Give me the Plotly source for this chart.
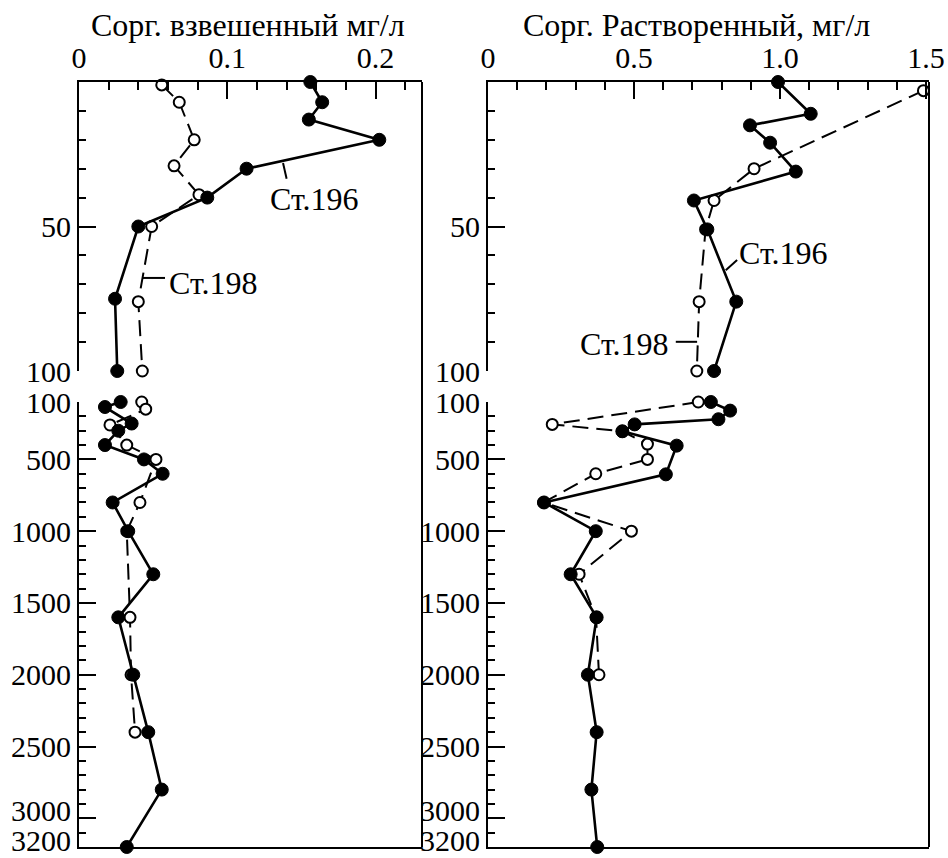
import plotly.graph_objects as go

# ---------------- data ----------------
# Left panel: suspended Corg, mg/l ; upper section 0-100 m
depth_top_196_L = [0, 7, 13, 20, 30, 40, 50, 75, 100]
susp_top_196 = [0.156, 0.164, 0.155, 0.2025, 0.113, 0.0865, 0.040, 0.0243, 0.0258]
depth_top_198_L = [1, 7, 20, 29, 39, 50, 76, 100]
susp_top_198 = [0.0558, 0.0676, 0.0777, 0.0641, 0.0809, 0.0490, 0.0400, 0.0427]
# lower section 100-3200 m
depth_bot_196_L = [100, 135, 250, 300, 400, 500, 600, 800, 1000, 1300, 1600, 2000, 2400, 2800, 3200]
susp_bot_196 = [0.0281, 0.0175, 0.0355, 0.0265, 0.0175, 0.0438, 0.0564, 0.0227, 0.0332,
                0.0501, 0.0265, 0.0366, 0.0467, 0.0558, 0.0322]
depth_bot_198_L = [100, 150, 260, 400, 500, 800, 1000, 1600, 2000, 2400]
susp_bot_198 = [0.0423, 0.0450, 0.0209, 0.0322, 0.0519, 0.0411, 0.0322, 0.0344, 0.0351, 0.0378]

# Right panel: dissolved Corg, mg/l ; upper section 0-100 m
depth_top_196_R = [0, 11, 15, 21, 31, 41, 51, 76, 100]
diss_top_196 = [0.993, 1.105, 0.897, 0.966, 1.054, 0.705, 0.751, 0.850, 0.774]
depth_top_198_R = [3, 30, 41, 51, 76, 100]
diss_top_198 = [1.491, 0.911, 0.774, 0.745, 0.723, 0.715]
# lower section 100-3200 m
depth_bot_196_R = [100, 160, 220, 256, 304, 404, 604, 800, 1000, 1300, 1600, 2000, 2400, 2800, 3200]
diss_bot_196 = [0.763, 0.829, 0.789, 0.502, 0.460, 0.646, 0.609, 0.192, 0.369, 0.283,
                0.372, 0.342, 0.372, 0.354, 0.374]
depth_bot_198_R = [100, 256, 304, 393, 500, 600, 800, 1000, 1300, 1600, 2000]
diss_bot_198 = [0.720, 0.220, 0.460, 0.546, 0.546, 0.369, 0.190, 0.491, 0.312, 0.370, 0.380]

# ticks
susp_ticks = [0, 0.1, 0.2]
susp_ticktext = ["0", "0.1", "0.2"]
susp_minor = [0.02, 0.04, 0.06, 0.08, 0.12, 0.14, 0.16, 0.18, 0.22]
diss_ticks = [0, 0.5, 1.0, 1.5]
diss_ticktext = ["0", "0.5", "1.0", "1.5"]
diss_minor = [0.1, 0.2, 0.3, 0.4, 0.6, 0.7, 0.8, 0.9, 1.1, 1.2, 1.3, 1.4]
top_depth_ticks = [50, 100]
top_depth_text = ["50", "100"]
top_depth_minor = [10, 20, 30, 40, 60, 70, 80, 90]
bot_depth_ticks = [100, 500, 1000, 1500, 2000, 2500, 3000, 3200]
bot_depth_text = ["100", "500", "1000", "1500", "2000", "2500", "", ""]
# the two lowest depth labels are set as annotations (placed as in the original, clear of the edge)
low_depth_labels = ["3000", "3200"]
bot_depth_minor = [d for d in range(200, 3200, 100) if d not in bot_depth_ticks]

title_left = "Сорг. взвешенный мг/л"
title_right = "Сорг. Растворенный, мг/л"
st196 = "Ст.196"
st198 = "Ст.198"

# ---------------- figure ----------------
FONT = "Liberation Serif"
FS = 30        # tick labels
FS_T = 32      # titles and station labels
W, H = 948, 858

def px_x(x):  # page pixel -> paper fraction
    return x / W

def px_y(y):
    return 1 - y / H

fig = go.Figure()

def add_series(x, y, xa, ya, filled):
    if filled:
        line = dict(color="black", width=2.6)
        marker = dict(size=13, color="black", line=dict(color="black", width=1))
    else:
        line = dict(color="black", width=2, dash="16px,8px")
        marker = dict(size=11, color="white", line=dict(color="black", width=2))
    fig.add_trace(go.Scatter(x=x, y=y, xaxis=xa, yaxis=ya, mode="lines+markers",
                             line=line, marker=marker, showlegend=False, cliponaxis=False))

add_series(susp_top_198, depth_top_198_L, "x", "y", False)
add_series(susp_top_196, depth_top_196_L, "x", "y", True)
add_series(diss_top_198, depth_top_198_R, "x2", "y2", False)
add_series(diss_top_196, depth_top_196_R, "x2", "y2", True)
add_series(susp_bot_198, depth_bot_198_L, "x3", "y3", False)
add_series(susp_bot_196, depth_bot_196_L, "x3", "y3", True)
add_series(diss_bot_198, depth_bot_198_R, "x4", "y4", False)
add_series(diss_bot_196, depth_bot_196_R, "x4", "y4", True)

tickfont = dict(family=FONT, size=FS, color="black")
base = dict(showgrid=False, zeroline=False, showline=True, linecolor="black", linewidth=2,
            tickcolor="black", tickwidth=2, tickfont=tickfont, fixedrange=True,
            automargin=False, ticklabeloverflow="allow")

xl = [px_x(79), px_x(422)]
xr = [px_x(488), px_x(929)]
yt = [px_y(371), px_y(82)]
yb = [px_y(847), px_y(402)]
susp_range = [0, 0.2313]
diss_range = [0, 1.51]

minor_x = dict(ticks="inside", ticklen=8, tickwidth=2, tickcolor="black", showgrid=False)

fig.update_layout(
    template="none",
    width=W, height=H, autosize=False,
    margin=dict(l=0, r=0, t=0, b=0, pad=0),
    paper_bgcolor="white", plot_bgcolor="white",
    font=dict(family=FONT, color="black"),
    xaxis=dict(base, domain=xl, range=susp_range, side="top", anchor="y", ticks="inside",
               ticklen=17, tickvals=susp_ticks, ticktext=susp_ticktext,
               minor=dict(minor_x, tickvals=susp_minor), ticklabelstandoff=0),
    xaxis2=dict(base, domain=xr, range=diss_range, side="top", anchor="y2", ticks="inside",
                ticklen=17, tickvals=diss_ticks, ticktext=diss_ticktext,
                minor=dict(minor_x, tickvals=diss_minor), ticklabelstandoff=0),
    xaxis3=dict(base, domain=xl, range=susp_range, side="bottom", anchor="y3", ticks="",
                showticklabels=False),
    xaxis4=dict(base, domain=xr, range=diss_range, side="bottom", anchor="y4", ticks="",
                showticklabels=False),
    yaxis=dict(base, domain=yt, range=[100, 0], anchor="x", ticks="inside", ticklen=17,
               tickvals=top_depth_ticks, ticktext=top_depth_text,
               minor=dict(minor_x, ticklen=7, tickvals=top_depth_minor), ticklabelstandoff=0),
    yaxis2=dict(base, domain=yt, range=[100, 0], anchor="x2", ticks="inside", ticklen=17,
                tickvals=top_depth_ticks, ticktext=top_depth_text,
                minor=dict(minor_x, ticklen=7, tickvals=top_depth_minor), ticklabelstandoff=0),
    yaxis3=dict(base, domain=yb, range=[3200, 100], anchor="x3", ticks="inside", ticklen=17,
                tickvals=bot_depth_ticks, ticktext=bot_depth_text,
                minor=dict(minor_x, ticklen=7, tickvals=bot_depth_minor), ticklabelstandoff=0),
    yaxis4=dict(base, domain=yb, range=[3200, 100], anchor="x4", ticks="inside", ticklen=17,
                tickvals=bot_depth_ticks, ticktext=bot_depth_text,
                minor=dict(minor_x, ticklen=7, tickvals=bot_depth_minor), ticklabelstandoff=0),
)

# right-hand frame lines spanning both sections
for xx in (xl[1], xr[1]):
    fig.add_shape(type="line", xref="paper", yref="paper", x0=xx, x1=xx, y0=yb[0], y1=yt[1],
                  line=dict(color="black", width=2))

# lowest depth labels (3000 slightly above its tick, 3200 resting on the page bottom)
for xpx in (72, 481):
    fig.add_annotation(text=low_depth_labels[0], xref="paper", yref="paper", x=px_x(xpx),
                       y=px_y(810), showarrow=False, xanchor="right", yanchor="middle",
                       borderpad=0, font=dict(family=FONT, size=FS, color="black"))
    fig.add_annotation(text=low_depth_labels[1], xref="paper", yref="paper", x=px_x(xpx), y=0,
                       showarrow=False, xanchor="right", yanchor="bottom", borderpad=0,
                       font=dict(family=FONT, size=FS, color="black"))

# titles
fig.add_annotation(text=title_left, xref="paper", yref="paper", x=px_x(248), y=px_y(25),
                   showarrow=False, xanchor="center", yanchor="middle",
                   font=dict(family=FONT, size=FS_T, color="black"))
fig.add_annotation(text=title_right, xref="paper", yref="paper", x=px_x(696), y=px_y(25),
                   showarrow=False, xanchor="center", yanchor="middle",
                   font=dict(family=FONT, size=FS_T, color="black"))

# station labels with leader lines
labels = [
    ("x", "y", st196, 0.1585, 40.5, (0.1376, 28.0, 0.1400, 33.5)),
    ("x", "y", st198, 0.0904, 69.5, (0.0425, 67.8, 0.0580, 67.8)),
    ("x2", "y2", st196, 1.012, 59.0, (0.853, 61.6, 0.814, 65.1)),
    ("x2", "y2", st198, 0.466, 90.5, (0.643, 89.9, 0.716, 89.9)),
]
for xa, ya, txt, tx, ty, (lx0, ly0, lx1, ly1) in labels:
    fig.add_annotation(text=txt, xref=xa, yref=ya, x=tx, y=ty, showarrow=False,
                       xanchor="center", yanchor="middle",
                       font=dict(family=FONT, size=FS_T, color="black"))
    fig.add_shape(type="line", xref=xa, yref=ya, x0=lx0, y0=ly0, x1=lx1, y1=ly1,
                  line=dict(color="black", width=2))

fig.write_html("out.html", config={"displayModeBar": False},
               post_script="document.body.style.margin='0px';"
                           "document.body.style.overflow='hidden';")
